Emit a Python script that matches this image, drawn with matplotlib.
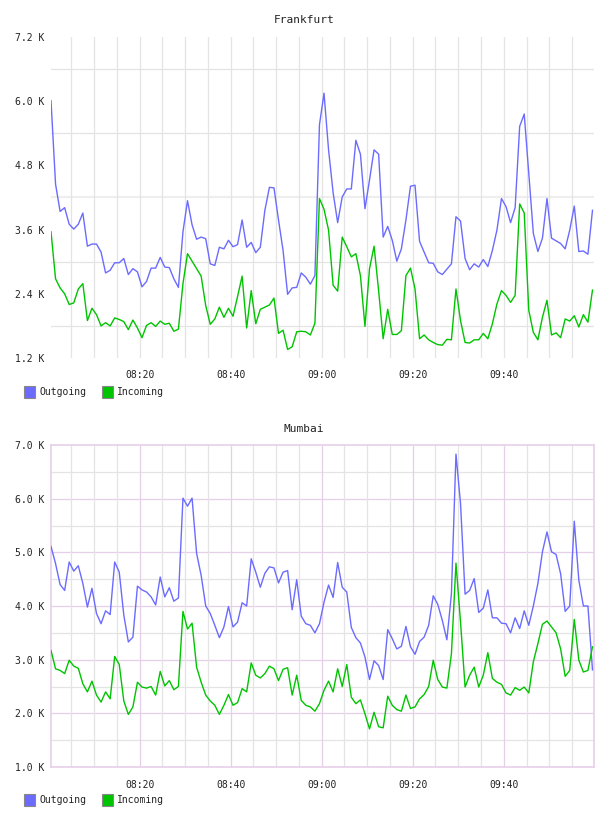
import datetime as dt
import matplotlib
matplotlib.use("Agg")
import matplotlib.pyplot as plt
import matplotlib.dates as mdates
from matplotlib.patches import Rectangle

# ---------------- data (values in thousands) ----------------
fra_out = [6.01, 4.45, 3.94, 4.01, 3.70, 3.61, 3.70, 3.91, 3.29, 3.33,
           3.33, 3.18, 2.79, 2.84, 2.98, 2.98, 3.06, 2.76, 2.87, 2.81,
           2.53, 2.63, 2.88, 2.88, 3.08, 2.90, 2.89, 2.68, 2.52, 3.56,
           4.14, 3.69, 3.42, 3.46, 3.43, 2.96, 2.93, 3.27, 3.24, 3.40,
           3.28, 3.32, 3.78, 3.27, 3.36, 3.17, 3.27, 3.96, 4.39, 4.38,
           3.78, 3.21, 2.39, 2.51, 2.52, 2.79, 2.71, 2.58, 2.74, 5.56,
           6.15, 5.09, 4.29, 3.73, 4.21, 4.36, 4.36, 5.27, 5.01, 3.99,
           4.53, 5.09, 5.01, 3.46, 3.66, 3.40, 3.01, 3.24, 3.78, 4.41,
           4.43, 3.38, 3.18, 2.98, 2.97, 2.81, 2.76, 2.86, 2.96, 3.84,
           3.76, 3.06, 2.85, 2.96, 2.90, 3.04, 2.91, 3.21, 3.59, 4.18,
           4.03, 3.73, 4.01, 5.53, 5.76, 4.65, 3.53, 3.19, 3.44, 4.18,
           3.44, 3.39, 3.34, 3.24, 3.59, 4.04, 3.19, 3.20, 3.14, 3.96]
fra_in = [3.56, 2.68, 2.51, 2.40, 2.20, 2.23, 2.49, 2.59, 1.90, 2.13,
          2.01, 1.80, 1.86, 1.80, 1.95, 1.92, 1.88, 1.73, 1.91, 1.76,
          1.58, 1.81, 1.86, 1.79, 1.89, 1.83, 1.85, 1.70, 1.74, 2.59,
          3.15, 3.01, 2.87, 2.73, 2.18, 1.83, 1.93, 2.15, 1.96, 2.13,
          1.98, 2.35, 2.73, 1.76, 2.46, 1.84, 2.11, 2.15, 2.19, 2.32,
          1.66, 1.72, 1.36, 1.41, 1.69, 1.70, 1.69, 1.63, 1.85, 4.18,
          3.98, 3.59, 2.56, 2.45, 3.46, 3.28, 3.09, 3.15, 2.74, 1.79,
          2.87, 3.29, 2.46, 1.56, 2.11, 1.64, 1.64, 1.71, 2.74, 2.88,
          2.49, 1.56, 1.63, 1.54, 1.49, 1.45, 1.44, 1.55, 1.54, 2.49,
          1.90, 1.49, 1.48, 1.54, 1.54, 1.66, 1.56, 1.84, 2.21, 2.46,
          2.37, 2.24, 2.37, 4.08, 3.91, 2.09, 1.68, 1.54, 1.96, 2.28,
          1.63, 1.67, 1.58, 1.93, 1.89, 1.99, 1.78, 2.01, 1.87, 2.47]
mum_out = [5.11, 4.79, 4.40, 4.29, 4.82, 4.65, 4.75, 4.42, 3.98, 4.33,
           3.86, 3.67, 3.91, 3.84, 4.82, 4.63, 3.83, 3.33, 3.42, 4.37,
           4.30, 4.26, 4.17, 4.02, 4.54, 4.17, 4.34, 4.09, 4.15, 6.01,
           5.86, 6.01, 4.98, 4.57, 4.00, 3.86, 3.64, 3.41, 3.61, 3.99,
           3.61, 3.70, 4.06, 4.00, 4.88, 4.63, 4.35, 4.61, 4.73, 4.71,
           4.43, 4.63, 4.66, 3.93, 4.49, 3.81, 3.67, 3.64, 3.50, 3.67,
           4.07, 4.39, 4.16, 4.81, 4.35, 4.26, 3.60, 3.41, 3.31, 3.05,
           2.63, 2.98, 2.89, 2.63, 3.56, 3.39, 3.20, 3.25, 3.62, 3.24,
           3.10, 3.34, 3.42, 3.64, 4.19, 4.03, 3.73, 3.37, 4.23, 6.83,
           5.91, 4.22, 4.29, 4.51, 3.88, 3.96, 4.30, 3.78, 3.78, 3.68,
           3.67, 3.50, 3.78, 3.58, 3.91, 3.64, 4.00, 4.42, 5.01, 5.38,
           5.01, 4.96, 4.60, 3.90, 4.00, 5.58, 4.48, 4.00, 4.00, 2.81]
mum_in = [3.17, 2.83, 2.80, 2.74, 2.99, 2.88, 2.84, 2.55, 2.40, 2.60,
          2.34, 2.21, 2.40, 2.27, 3.06, 2.91, 2.23, 1.98, 2.12, 2.58,
          2.49, 2.47, 2.50, 2.34, 2.78, 2.51, 2.61, 2.44, 2.50, 3.90,
          3.57, 3.68, 2.86, 2.58, 2.34, 2.23, 2.15, 1.98, 2.15, 2.35,
          2.15, 2.20, 2.46, 2.40, 2.94, 2.71, 2.66, 2.74, 2.88, 2.83,
          2.61, 2.82, 2.85, 2.34, 2.71, 2.24, 2.15, 2.12, 2.04, 2.18,
          2.43, 2.60, 2.40, 2.83, 2.50, 2.91, 2.30, 2.18, 2.25, 1.99,
          1.71, 2.02, 1.75, 1.73, 2.32, 2.15, 2.07, 2.04, 2.34, 2.09,
          2.12, 2.27, 2.35, 2.50, 2.99, 2.63, 2.49, 2.47, 3.11, 4.80,
          3.70, 2.49, 2.71, 2.86, 2.49, 2.71, 3.13, 2.65, 2.58, 2.54,
          2.38, 2.34, 2.48, 2.43, 2.49, 2.38, 2.96, 3.30, 3.66, 3.72,
          3.61, 3.50, 3.20, 2.69, 2.80, 3.75, 2.99, 2.77, 2.80, 3.24]

titles = ["Frankfurt", "Mumbai"]
series_names = ["Outgoing", "Incoming"]
fra_yticks = [1.2, 2.4, 3.6, 4.8, 6.0, 7.2]
fra_ygrid = [1.8, 3.0, 4.2, 5.4, 6.6]
mum_yticks = [1.0, 2.0, 3.0, 4.0, 5.0, 6.0, 7.0]
mum_yminor = [1.5, 2.5, 3.5, 4.5, 5.5, 6.5]
xtick_labels = ["08:20", "08:40", "09:00", "09:20", "09:40"]

start = dt.datetime(2024, 1, 1, 8, 0, 30)
times = [start + dt.timedelta(minutes=i) for i in range(len(fra_out))]

BLUE = "#6b6bff"
GREEN = "#00c400"
GRID = "#e4e4e4"
PINK = "#e6cfe9"
TXT = "#222222"
MONO = "DejaVu Sans Mono"

W, H = 608, 816
fig = plt.figure(figsize=(W / 100, H / 100), dpi=100)


def fx(px):
    return px / W


def fy(py):
    return 1 - py / H


def hm(s):
    h, m = s.split(":")
    return dt.datetime(2024, 1, 1, int(h), int(m))


five_min = [dt.datetime(2024, 1, 1, 8, 0) + dt.timedelta(minutes=5 * k) for k in range(1, 24)]
major_times = [hm(s) for s in xtick_labels]


def setup(ax, ylo, yhi, yticks, out, inc, pink):
    ax.set_xlim(times[0], times[-1] + dt.timedelta(seconds=20))
    ax.set_ylim(ylo, yhi)
    for t in five_min:
        is_major = t in major_times
        ax.axvline(t, color=(PINK if (pink and is_major) else GRID), lw=0.9, zorder=1)
    ax.plot(times, out, color=BLUE, lw=1.0, zorder=3)
    ax.plot(times, inc, color=GREEN, lw=1.0, zorder=3)
    ax.set_yticks(yticks)
    ax.set_yticklabels([f"{v:.1f} K" for v in yticks])
    ax.set_xticks(major_times)
    ax.set_xticklabels(xtick_labels)
    ax.tick_params(length=0, labelsize=7, labelcolor=TXT)
    ax.tick_params(axis="y", pad=5)
    ax.tick_params(axis="x", pad=9)
    for lab in ax.get_xticklabels() + ax.get_yticklabels():
        lab.set_family(MONO)


# ---- Frankfurt ----
ax1 = fig.add_axes([fx(51), fy(358), fx(543), 321 / H])
for g in fra_ygrid:
    ax1.axhline(g, color=GRID, lw=(1.6 if abs(g - 4.2) < 1e-6 else 0.9), zorder=1,
                alpha=(0.6 if abs(g - 4.2) < 1e-6 else 1))
setup(ax1, 1.2, 7.2, fra_yticks, fra_out, fra_in, pink=False)
for s in ax1.spines.values():
    s.set_visible(False)

# ---- Mumbai ----
ax2 = fig.add_axes([fx(51), fy(767), fx(543), 322 / H])
for g in mum_yminor:
    ax2.axhline(g, color=GRID, lw=0.9, zorder=1)
for g in mum_yticks[1:-1]:
    ax2.axhline(g, color=PINK, lw=0.9, zorder=1)
setup(ax2, 1.0, 7.0, mum_yticks, mum_out, mum_in, pink=True)
for s in ax2.spines.values():
    s.set_color(PINK)
    s.set_linewidth(1.2)

# titles
fig.text(0.5, fy(20), titles[0], ha="center", va="center", fontsize=8, family=MONO, color=TXT)
fig.text(0.5, fy(429), titles[1], ha="center", va="center", fontsize=8, family=MONO, color=TXT)

# legends
for ly in (392, 800):
    for x0, name, col in ((24, series_names[0], BLUE), (102, series_names[1], GREEN)):
        fig.add_artist(Rectangle((fx(x0), fy(ly + 6)), fx(11), 12 / H, transform=fig.transFigure,
                                 facecolor=col, edgecolor="#888888", lw=0.8))
        fig.text(fx(x0 + 15), fy(ly), name, ha="left", va="center", fontsize=7,
                 family=MONO, color=TXT)

fig.savefig("out.png", dpi=100, facecolor="white")
